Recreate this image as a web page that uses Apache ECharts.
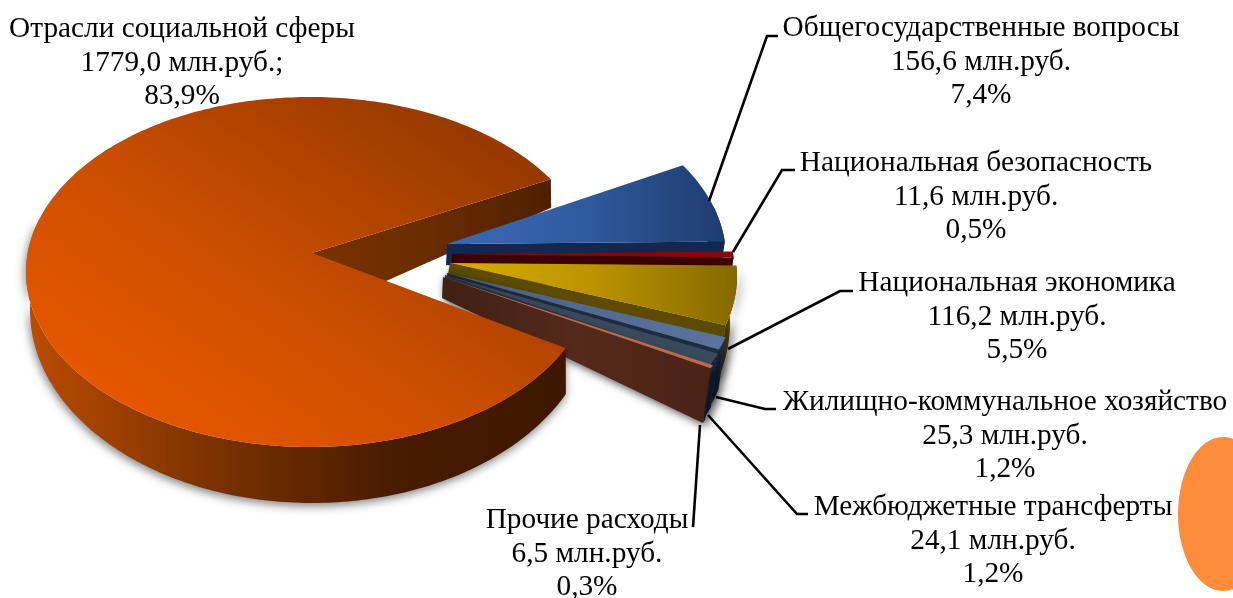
<!DOCTYPE html>
<html>
<head>
<meta charset="utf-8">
<style>html,body{margin:0;padding:0;background:#fff}#chart{width:1233px;height:598px}</style>
<script src="https://cdn.jsdelivr.net/npm/echarts@6/dist/echarts.min.js"></script>
</head>
<body>
<div id="chart"></div>
<script>
// ---------- data, clockwise from the start angle ----------
var categories = ['Общегосударственные вопросы','Национальная безопасность','Национальная экономика','Жилищно-коммунальное хозяйство','Межбюджетные трансферты','Прочие расходы','Отрасли социальной сферы'];
var amounts = [156.6, 11.6, 116.2, 25.3, 24.1, 6.5, 1779.0];
var amountLabels = ['156,6 млн.руб.','11,6 млн.руб.','116,2 млн.руб.','25,3 млн.руб.','24,1 млн.руб.','6,5 млн.руб.','1779,0 млн.руб.;'];
var percentLabels = ['7,4%','0,5%','5,5%','1,2%','1,2%','0,3%','83,9%'];

// ---------- layout of the perspective drawing ----------
var START_ANGLE = 32;
var TOP_RX = 284, TOP_RY = 175, BOTTOM_RX = 282, BOTTOM_RY = 193;
// top-face ellipse centre + apex, bottom ellipse centre + apex (each slice is pulled out on its own)
var geometry = [
  {c:[442,258], a:[447,244], bc:[437,305], ba:[446,265], z:10},
  {c:[450,268], a:[452,254], bc:[445,315], ba:[451,275], z:20},
  {c:[453,276], a:[450,263], bc:[448,323], ba:[446,284], z:30},
  {c:[453,288], a:[447,273], bc:[448,335], ba:[446,294], z:40},
  {c:[452,292], a:[445,275], bc:[447,339], ba:[444,296], z:50},
  {c:[455,292], a:[443,277], bc:[449,339], ba:[442,298], z:60},
  {c:[310,272], a:[312,253], bc:[312,310], ba:[314,313], z:100}
];
function hGrad(stops){return {type:'linear',x:0,y:0,x2:1,y2:0,colorStops:stops.map(function(c,i){return {offset:i/(stops.length-1),color:c};})};}
var looks = [
  {top:hGrad(['#3a6ab8','#2f5a9e','#1e3c6e']), rim:'#12264e', face:'#14274f'},
  {top:'#8a0505', rim:'#3a0000', face:'#3d0000'},
  {top:hGrad(['#d8ad00','#bb9300','#856900']), rim:hGrad(['#6a5400','#4a3c00']), face:'#5c4b00'},
  {top:hGrad(['#4a5f82','#5b74a0']), rim:'#1c3050', face:'#1d2c40'},
  {top:'#3a4a5e', rim:'#17294a', face:'#2a3648'},
  {top:'#bd6a45', rim:'#1f2b42', face:hGrad(['#3f2015','#552a1a','#4a2214'])},
  {top:{type:'linear',x:0.28,y:1,x2:0.72,y2:0,colorStops:[{offset:0,color:'#e65700'},{offset:0.45,color:'#cb4e00'},{offset:1,color:'#983a00'}]},
   rim:hGrad(['#bd4c00','#7d3300','#4a1c00','#3d1700']),
   face:hGrad(['#7a3200','#6a2c00','#4e2000'])}
];
var labelCenters = [[981,62],[976,197],[1017,317],[1005,436],[993,541],[587,554],[182,63]];
var leaders = [
  [[709,201],[767,36],[778,36]],
  [[733,252],[782,170],[795,170]],
  [[728,349],[840,291],[853,291]],
  [[716,397],[765,409],[776,409]],
  [[708,415],[797,514],[808,514]],
  [[700,425],[693,527]],
  null
];
var FONT_FAMILY = '"Liberation Serif","Times New Roman",serif';
var FONT_SIZE = 29.3, LINE_HEIGHT = 33.8;

var total = amounts.reduce(function(s,v){return s+v;},0);

function rimPoint(cx,cy,rx,ry,deg){
  var t = deg*Math.PI/180;
  return [cx+rx*Math.cos(t), cy-ry*Math.sin(t)];
}
function renderSlice(params, api){
  var i = params.dataIndex;
  var before = 0;
  for (var k=0;k<i;k++) before += amounts[k];
  var a0 = START_ANGLE - before/total*360;
  var a1 = a0 - api.value(1)/total*360;
  var g = geometry[i], l = looks[i];
  var topArc = [], ribbonTop = [], ribbonBottom = [];
  var steps = Math.max(2, Math.ceil((a0-a1)));
  for (var s=0;s<=steps;s++){
    var d = a0+(a1-a0)*s/steps;
    var pt = rimPoint(g.c[0],g.c[1],TOP_RX,TOP_RY,d);
    topArc.push(pt);
    if (Math.sin(d*Math.PI/180) < 0.3){
      ribbonTop.push(pt);
      ribbonBottom.unshift(rimPoint(g.bc[0],g.bc[1],BOTTOM_RX,BOTTOM_RY,d));
    }
  }
  var endTop = rimPoint(g.c[0],g.c[1],TOP_RX,TOP_RY,a1);
  var endBottom = rimPoint(g.bc[0],g.bc[1],BOTTOM_RX,BOTTOM_RY,a1);
  var isMain = i === amounts.length-1;
  var children = [];
  var shadow = (isMain || i >= 2) ? {shadowBlur:10,shadowColor:'rgba(0,0,0,0.5)',shadowOffsetX:isMain?-1:3,shadowOffsetY:3} : {};
  if (ribbonTop.length > 1){
    children.push({type:'polygon',z2:g.z,shape:{points:ribbonTop.concat(ribbonBottom)},
      style:Object.assign({fill:l.rim},shadow)});
  }
  children.push({type:'polygon',z2:isMain?1:g.z+1,shape:{points:[g.a,endTop,endBottom,g.ba]},
    style:Object.assign({fill:l.face},isMain?{}:shadow)});
  children.push({type:'polygon',z2:g.z+2,shape:{points:[g.a].concat(topArc)},style:{fill:l.top}});
  if (leaders[i]){
    children.push({type:'polyline',z2:200,shape:{points:leaders[i]},style:{fill:null,stroke:'#000',lineWidth:2.6}});
  }
  children.push({type:'text',z2:210,style:{
    text:categories[i]+'\n'+amountLabels[i]+'\n'+percentLabels[i],
    x:labelCenters[i][0],y:labelCenters[i][1],align:'center',verticalAlign:'middle',
    textAlign:'center',textVerticalAlign:'middle',
    fontFamily:FONT_FAMILY,fontSize:FONT_SIZE,lineHeight:LINE_HEIGHT,fill:'#000'}});
  return {type:'group',children:children};
}

var chart = echarts.init(document.getElementById('chart'),null,{renderer:'canvas'});
chart.setOption({
  animation:false,
  backgroundColor:'#fff',
  graphic:[{type:'ellipse',shape:{cx:1223,cy:514,rx:45,ry:77},style:{fill:'#ff8c3a'},z:0}],
  series:[{
    type:'custom',
    coordinateSystem:'none',
    silent:true,
    clip:false,
    renderItem:renderSlice,
    data:amounts.map(function(v,i){return {name:categories[i],value:[i,v]};})
  }]
});
</script>
</body>
</html>
